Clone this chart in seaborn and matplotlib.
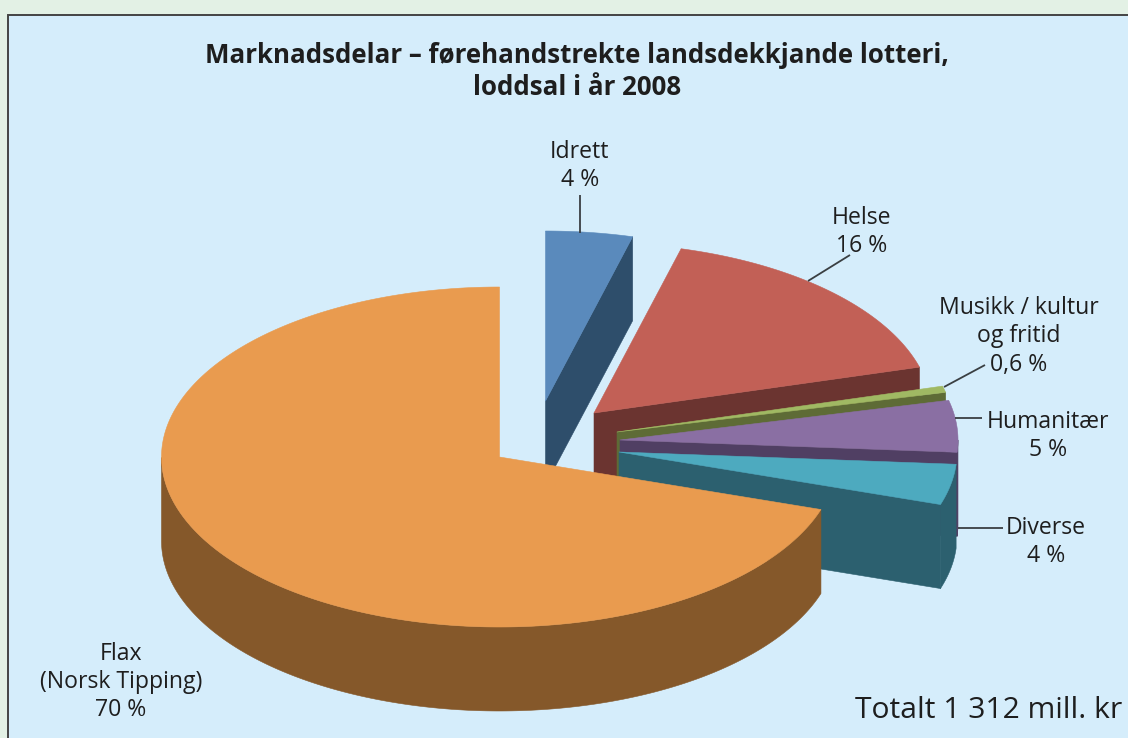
import numpy as np
import pandas as pd
import matplotlib
matplotlib.use("Agg")
import matplotlib.pyplot as plt
from matplotlib.patches import Polygon, Rectangle
import seaborn as sns

# Data, clockwise from twelve o'clock (shares, %)
categories = ["Idrett", "Helse", "Musikk / kultur og fritid", "Humanitær", "Diverse", "Flax (Norsk Tipping)"]
shares = [4.15, 16.5, 0.6, 4.9, 3.85, 70.0]
labels = ["Idrett\n4 %", "Helse\n16 %", "Musikk / kultur\nog fritid\n0,6 %", "Humanitær\n5 %", "Diverse\n4 %",
          "Flax\n(Norsk Tipping)\n70 %"]
title = "Marknadsdelar – førehandstrekte landsdekkjande lotteri,\nloddsal i år 2008"
total_note = "Totalt 1 312 mill. kr"

# Styling
top_colors = ["#5A8ABC", "#C26056", "#A0B963", "#8A6FA3", "#4DAABF", "#E99B4F"]
side_colors = ["#2E4E6B", "#6B3430", "#5E6B36", "#503F63", "#2C606F", "#85582A"]
apex = [(545.5, 401), (594, 413), (617, 432), (620, 440), (619, 452), (499.5, 457)]
label_xy = [(580, 166), (862, 232), (1019, 336), (1048, 436), (1046, 542), (121, 682)]
leaders = [((580, 195), (580, 233)), ((850, 255), (808, 281)), ((985, 365), (944, 387)),
           ((955, 418), (982, 418)), ((958, 528), (1003, 528))]
RX, RY, DEPTH = 338, 170, 84
FONT = ["Open Sans", "DejaVu Sans"]

sns.set_theme(style="white")
plt.rcParams["font.family"] = FONT

df = pd.DataFrame({"category": categories, "share": shares, "top": top_colors, "side": side_colors})
df["sweep"] = df["share"] / df["share"].sum() * 360
df["start"] = 90 - df["sweep"].cumsum().shift(fill_value=0)   # counter-clockwise edge
df["end"] = df["start"] - df["sweep"]                         # clockwise edge

fig = plt.figure(figsize=(11.28, 7.38), dpi=100, facecolor="#E3F1E5")
ax = fig.add_axes([0, 0, 1, 1])
ax.set_xlim(0, 1128)
ax.set_ylim(738, 0)
ax.axis("off")
ax.add_patch(Rectangle((7.5, 15), 1140, 740, facecolor="#D5EDFB", edgecolor="#444444", lw=1.4, zorder=0))


def rim(cx, cy, angles, drop=0.0):
    r = np.radians(angles)
    return np.column_stack([cx + RX * np.cos(r), cy - RY * np.sin(r) + drop])


def patch(pts, color):
    ax.add_patch(Polygon(pts, closed=True, facecolor=color, edgecolor=color, lw=0.4, joinstyle="round"))


for (cx, cy), row in zip(apex, df.itertuples()):
    centre = np.array([[cx, cy]])
    sink = np.array([[0, DEPTH]])
    # visible radial walls
    if np.cos(np.radians(row.end)) > 1e-6:
        e = rim(cx, cy, [row.end])
        patch(np.vstack([centre, e, e + sink, centre + sink]), row.side)
    if np.cos(np.radians(row.start)) < -1e-6:
        s = rim(cx, cy, [row.start])
        patch(np.vstack([centre, s, s + sink, centre + sink]), row.side)
    # outer wall: only the part of the rim facing the viewer
    a = np.linspace(row.start, row.end, 300)
    front = a[np.sin(np.radians(a)) < 0]
    if front.size:
        upper = rim(cx, cy, front)
        patch(np.vstack([upper, upper[::-1] + sink]), row.side)
    # top face
    patch(np.vstack([centre, rim(cx, cy, a)]), row.top)

for p, q in leaders:
    ax.plot([p[0], q[0]], [p[1], q[1]], color="#3A3F42", lw=1.3, solid_capstyle="butt")

for (x, y), text in zip(label_xy, labels):
    ax.text(x, y, text, ha="center", va="center", fontsize=16.6, color="#1E1E1E", linespacing=1.25)

ax.text(577, 71.5, title, ha="center", va="center", fontsize=18.6, fontweight="bold", color="#1E1E1E", linespacing=1.27)
ax.text(1122, 711, total_note, ha="right", va="center", fontsize=21.6, color="#1E1E1E")

fig.savefig("out.png", dpi=100, facecolor=fig.get_facecolor())
